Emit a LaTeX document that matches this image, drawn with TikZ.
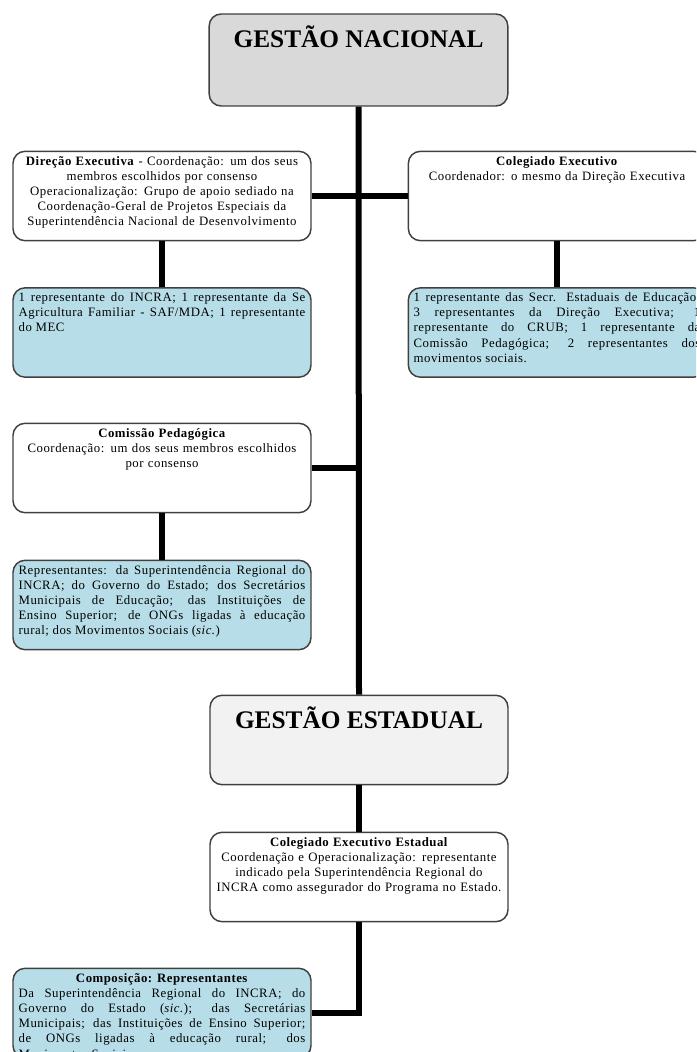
\documentclass[tikz,border=0pt]{standalone}
\usepackage{fontspec}
\setmainfont{Liberation Serif}
\newfontfamily\boxfont[LetterSpace=4]{Liberation Serif}
\usetikzlibrary{positioning}
\definecolor{boxline}{HTML}{404040}
\definecolor{natfill}{HTML}{D9D9D9}
\definecolor{estfill}{HTML}{F2F2F2}
\definecolor{repfill}{HTML}{B7DEE8}

\begin{document}
\begin{tikzpicture}[
  x=0.75pt, y=-0.75pt,
  box/.style={rounded corners=9pt, draw=boxline, line width=1.1pt, fill=white, minimum width=223.5pt, minimum height=67pt, inner sep=0pt},
  natbox/.style={box, fill=natfill, minimum width=224pt, minimum height=69pt},
  estbox/.style={box, fill=estfill},
  repbox/.style={box, fill=repfill},
  heading/.style={font=\bfseries\fontsize{19}{21}\selectfont, inner sep=0pt},
  txt/.style={font=\boxfont\fontsize{9.6}{11.4}\selectfont, text width=215pt, inner sep=3pt},
  ctxt/.style={txt, align=center},
  jtxt/.style={txt, align=justify},
  conn/.style={line width=4.5pt, draw=black},
]
\useasboundingbox (0,0) rectangle (696,1052);
\clip (0,0) rectangle (696,1052);
% national level
\node[natbox] (nac) at (358.5,60) {};
\node[heading, below=9pt of nac.north] (nactitle) {GESTÃO NACIONAL};
\node[box] (dir) at (162,196) {};
\node[ctxt, below=1pt of dir.north] (dirtxt) {\textbf{Direção Executiva} - Coordenação: um dos seus\\membros escolhidos por consenso\\Operacionalização: Grupo de apoio sediado na\\Coordenação-Geral de Projetos Especiais da\\Superintendência Nacional de Desenvolvimento};
\node[box, minimum width=223pt] (col) at (557,196) {};
\node[ctxt, below=1pt of col.north] (coltxt) {\textbf{Colegiado Executivo}\\Coordenador: o mesmo da Direção Executiva};
\node[repbox] (repdir) at (162,332.5) {};
\node[jtxt, below=1pt of repdir.north] (repdirtxt) {1 representante do INCRA; 1 representante da Se\linebreak Agricultura Familiar - SAF/MDA; 1 representante\linebreak do MEC};
\node[repbox, minimum width=223pt] (repcol) at (557,332.5) {};
\node[jtxt, below=1pt of repcol.north] (repcoltxt) {1 representante das Secr. Estaduais de Educação;\linebreak 3 representantes da Direção Executiva; 1\linebreak representante do CRUB; 1 representante da\linebreak Comissão Pedagógica; 2 representantes dos\linebreak movimentos sociais.};
\node[box] (com) at (162,468) {};
\node[ctxt, below=1pt of com.north] (comtxt) {\textbf{Comissão Pedagógica}\\Coordenação: um dos seus membros escolhidos\\por consenso};
\node[repbox] (repcom) at (162,605) {};
\node[jtxt, below=1pt of repcom.north] (repcomtxt) {Representantes: da Superintendência Regional do\linebreak INCRA; do Governo do Estado; dos Secretários\linebreak Municipais de Educação; das Instituições de\linebreak Ensino Superior; de ONGs ligadas à educação\linebreak rural; dos Movimentos Sociais (\textit{sic.})};
% state level
\node[estbox] (est) at (359,740) {};
\node[heading, below=9pt of est.north] (esttitle) {GESTÃO ESTADUAL};
\node[box] (cee) at (359,877) {};
\node[ctxt, below=1pt of cee.north] (ceetxt) {\textbf{Colegiado Executivo Estadual}\\Coordenação e Operacionalização: representante\\indicado pela Superintendência Regional do\\INCRA como assegurador do Programa no Estado.};
\node[repbox] (comp) at (162,1013) {};
\node[jtxt, below=1pt of comp.north] (comptxt) {\hbox to\linewidth{\hfil\textbf{Composição: Representantes}\hfil}\par\noindent Da Superintendência Regional do INCRA; do\linebreak Governo do Estado (\textit{sic.}); das Secretárias\linebreak Municipais; das Instituições de Ensino Superior;\linebreak de ONGs ligadas à educação rural; dos\linebreak Movimentos Sociais.};
% connectors
\draw[conn] (nac.south) -- (est.north);
\draw[conn] (dir.east) -- (col.west);
\draw[conn] (dir.south) -- (repdir.north);
\draw[conn] (col.south) -- (repcol.north);
\draw[conn] (com.east) -- (com.east -| nac.south);
\draw[conn] (com.south) -- (repcom.north);
\draw[conn] (est.south) -- (cee.north);
\draw[conn] (cee.south) |- (comp.east);
\end{tikzpicture}
\end{document}
